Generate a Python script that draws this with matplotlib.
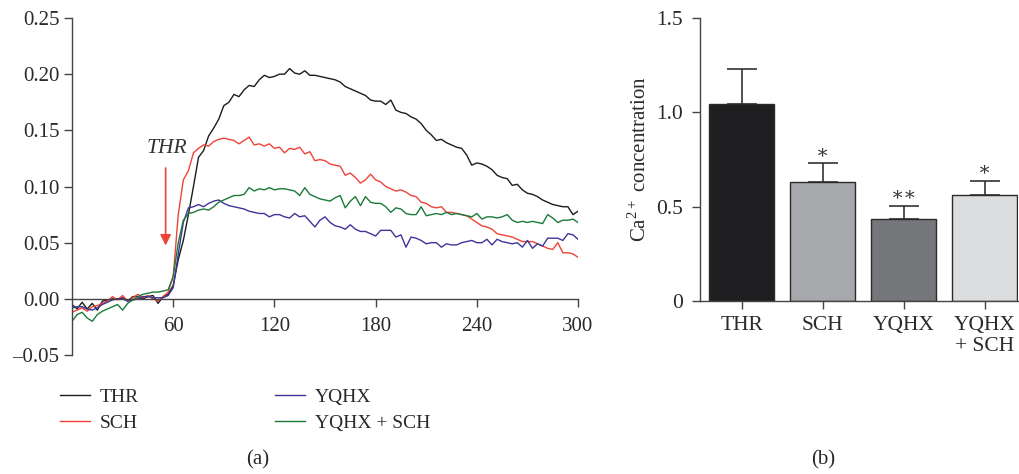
import numpy as np
import matplotlib
matplotlib.use("Agg")
import matplotlib.pyplot as plt

plt.rcParams['font.family'] = ['Liberation Serif', 'DejaVu Serif']
plt.rcParams['mathtext.fontset'] = 'custom'
plt.rcParams['mathtext.rm'] = 'Liberation Serif'
plt.rcParams['axes.unicode_minus'] = True

# (a) time course, one reading every 3 s
time = np.arange(0, 301, 3)

thr = [-0.005, -0.009, -0.003, -0.009, -0.004, -0.010, -0.002, -0.001, 0.000, 0.000,
       0.001, -0.002, 0.002, 0.002, 0.000, 0.002, 0.003, -0.004, 0.002, 0.004,
       0.012, 0.035, 0.052, 0.075, 0.100, 0.126, 0.132, 0.145, 0.152, 0.160,
       0.172, 0.175, 0.182, 0.180, 0.186, 0.190, 0.189, 0.195, 0.199, 0.197,
       0.198, 0.200, 0.200, 0.205, 0.201, 0.200, 0.203, 0.199, 0.199, 0.198,
       0.197, 0.196, 0.195, 0.193, 0.189, 0.187, 0.185, 0.183, 0.181, 0.177,
       0.176, 0.176, 0.173, 0.177, 0.168, 0.166, 0.165, 0.162, 0.160, 0.156,
       0.150, 0.146, 0.141, 0.142, 0.139, 0.137, 0.135, 0.134, 0.128, 0.119,
       0.121, 0.120, 0.118, 0.115, 0.110, 0.108, 0.107, 0.101, 0.102, 0.097,
       0.094, 0.093, 0.091, 0.088, 0.086, 0.084, 0.083, 0.082, 0.082, 0.075,
       0.078]

sch = [-0.012, -0.010, -0.008, -0.011, -0.007, -0.006, -0.004, -0.002, 0.002, -0.001,
       0.003, -0.002, 0.001, 0.004, 0.001, 0.003, 0.000, -0.002, 0.002, 0.006,
       0.020, 0.075, 0.106, 0.114, 0.130, 0.134, 0.137, 0.136, 0.140, 0.142,
       0.143, 0.142, 0.141, 0.138, 0.141, 0.144, 0.137, 0.138, 0.136, 0.138,
       0.134, 0.135, 0.130, 0.134, 0.133, 0.135, 0.129, 0.131, 0.123, 0.124,
       0.123, 0.120, 0.119, 0.118, 0.110, 0.112, 0.108, 0.103, 0.106, 0.111,
       0.106, 0.104, 0.100, 0.098, 0.096, 0.097, 0.095, 0.092, 0.091, 0.086,
       0.085, 0.082, 0.081, 0.082, 0.077, 0.077, 0.076, 0.075, 0.074, 0.071,
       0.068, 0.065, 0.064, 0.062, 0.058, 0.057, 0.056, 0.055, 0.053, 0.051,
       0.051, 0.051, 0.049, 0.047, 0.045, 0.044, 0.050, 0.041, 0.041, 0.040,
       0.037]

yqhx = [-0.008, -0.007, -0.007, -0.009, -0.010, -0.008, -0.005, -0.003, -0.001, 0.000,
        0.000, -0.002, -0.001, 0.000, 0.002, 0.002, 0.001, 0.001, 0.001, 0.003,
        0.010, 0.040, 0.068, 0.081, 0.082, 0.084, 0.082, 0.085, 0.087, 0.088,
        0.085, 0.083, 0.082, 0.081, 0.080, 0.078, 0.077, 0.076, 0.076, 0.073,
        0.075, 0.075, 0.073, 0.072, 0.076, 0.073, 0.074, 0.069, 0.064, 0.070,
        0.073, 0.068, 0.065, 0.064, 0.062, 0.066, 0.062, 0.060, 0.060, 0.058,
        0.056, 0.061, 0.061, 0.061, 0.055, 0.057, 0.046, 0.055, 0.054, 0.052,
        0.049, 0.050, 0.050, 0.046, 0.049, 0.048, 0.048, 0.050, 0.051, 0.052,
        0.050, 0.050, 0.053, 0.048, 0.053, 0.051, 0.050, 0.049, 0.050, 0.046,
        0.052, 0.045, 0.049, 0.047, 0.054, 0.054, 0.054, 0.052, 0.058, 0.057,
        0.053]

yqhx_sch = [-0.020, -0.014, -0.012, -0.017, -0.020, -0.014, -0.011, -0.009, -0.007, -0.005,
            -0.010, -0.004, -0.001, 0.002, 0.004, 0.005, 0.006, 0.006, 0.007, 0.008,
            0.020, 0.050, 0.070, 0.076, 0.077, 0.079, 0.080, 0.079, 0.082, 0.086,
            0.088, 0.090, 0.092, 0.092, 0.093, 0.099, 0.096, 0.098, 0.097, 0.099,
            0.097, 0.098, 0.098, 0.097, 0.096, 0.092, 0.099, 0.093, 0.091, 0.089,
            0.088, 0.087, 0.090, 0.092, 0.081, 0.087, 0.091, 0.083, 0.091, 0.086,
            0.085, 0.085, 0.082, 0.077, 0.081, 0.080, 0.076, 0.075, 0.075, 0.082,
            0.074, 0.075, 0.076, 0.075, 0.077, 0.075, 0.076, 0.075, 0.074, 0.073,
            0.076, 0.071, 0.073, 0.073, 0.072, 0.073, 0.075, 0.070, 0.068, 0.069,
            0.068, 0.069, 0.068, 0.067, 0.075, 0.072, 0.068, 0.070, 0.070, 0.071,
            0.068]

# (b) bar chart
groups = ['THR', 'SCH', 'YQHX', 'YQHX\n+ SCH']
ca_mean = [1.046, 0.632, 0.435, 0.560]
ca_err = [0.184, 0.100, 0.070, 0.078]
stars = ['', '*', '**', '*']

red = '#ee4337'
txt = '#2a2a2a'
fig = plt.figure(figsize=(10.2, 4.74), dpi=100)

# ---- panel (a)
ax = fig.add_axes([0.0706, 0.251, 0.4961, 0.711])
ax.plot(time, thr, color='#1c1c1c', lw=1.0, label='THR')
ax.plot(time, sch, color=red, lw=1.0, label='SCH')
ax.plot(time, yqhx, color='#3d3597', lw=1.0, label='YQHX')
ax.plot(time, yqhx_sch, color='#1b7a3a', lw=1.0, label='YQHX + SCH')
ax.set_xlim(0, 300)
ax.set_ylim(-0.05, 0.25)
ax.spines['top'].set_visible(False)
ax.spines['right'].set_visible(False)
ax.spines['bottom'].set_position(('data', 0))
for s in ['left', 'bottom']:
    ax.spines[s].set_color('#444444')
    ax.spines[s].set_linewidth(1.0)
ax.set_xticks([60, 120, 180, 240, 300])
ax.set_yticks([-0.05, 0, 0.05, 0.10, 0.15, 0.20, 0.25])
ax.set_yticklabels(['\u20130.05', '0.00', '0.05', '0.10', '0.15', '0.20', '0.25'])
ax.tick_params(axis='both', labelsize=15, colors='#444444', labelcolor=txt,
               length=6, width=1.0)
ax.tick_params(axis='y', pad=3)
ax.tick_params(axis='x', pad=7)

ax.annotate('', xy=(55.5, 0.045), xytext=(55.5, 0.119),
            arrowprops=dict(arrowstyle='-|>', color=red, lw=1.2, mutation_scale=16))
ax.text(56, 0.134, 'THR', fontsize=15.5, style='italic', color='#333333',
        ha='center', va='center')

fig.legend(loc='upper left', bbox_to_anchor=(60 / 1020, 1 - 388 / 474), ncol=2,
           frameon=False, fontsize=14, handlelength=1.55, handletextpad=0.5,
           columnspacing=7.0, labelspacing=0.45, borderpad=0, borderaxespad=0,
           labelcolor=txt)

fig.text(258 / 1020, 1 - 460 / 474, '(a)', fontsize=15, ha='center', va='center',
         color=txt)

# ---- panel (b)
bx = fig.add_axes([0.686, 0.365, 0.312, 0.597])
xpos = np.arange(len(groups))
bx.bar(xpos, ca_mean, width=0.8, color=['#1f1f21', '#a7a8ab', '#76777b', '#dcdddf'],
       edgecolor='#2a2a2a', linewidth=1.0, zorder=2)
bx.errorbar(xpos, ca_mean, yerr=[np.zeros(len(ca_err)), ca_err], fmt='none',
            ecolor='#333333', elinewidth=1.2, capsize=11, capthick=1.2, zorder=1)
for i in range(len(groups)):
    if stars[i]:
        bx.text(xpos[i], ca_mean[i] + ca_err[i] + 0.055, stars[i].replace('*', '\u2217'),
                ha='center', va='center', fontsize=14, color='#333333')
bx.set_xlim(-0.52, 3.41)
bx.set_ylim(0, 1.5)
bx.set_yticks([0, 0.5, 1.0, 1.5])
bx.set_yticklabels(['0', '0.5', '1.0', '1.5'])
bx.set_xticks(xpos)
bx.set_xticklabels(groups, linespacing=1.15)
bx.spines['top'].set_visible(False)
bx.spines['right'].set_visible(False)
for s in ['left', 'bottom']:
    bx.spines[s].set_color('#444444')
    bx.spines[s].set_linewidth(1.0)
bx.tick_params(axis='both', labelsize=15.5, colors='#444444', labelcolor=txt,
               length=6, width=1.0)
bx.tick_params(axis='y', pad=6)
bx.tick_params(axis='x', pad=5)
bx.set_ylabel('Ca$^{2+}$ concentration', fontsize=15, color=txt, labelpad=4)

fig.text(823 / 1020, 1 - 460 / 474, '(b)', fontsize=15, ha='center', va='center',
         color=txt)

fig.savefig('out.png', dpi=100)
